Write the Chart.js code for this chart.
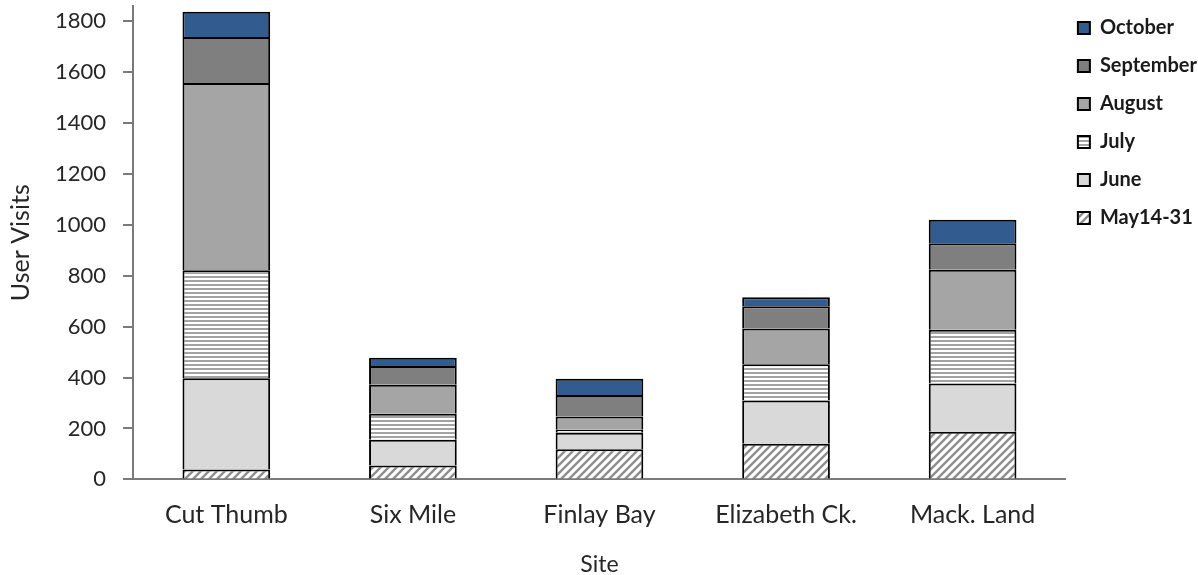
<!DOCTYPE html>
<html>
<head>
<meta charset="utf-8">
<script src="https://cdn.jsdelivr.net/npm/chart.js@4.4.1/dist/chart.umd.min.js"></script>
<style>
  html, body { margin: 0; padding: 0; background: #ffffff; }
  #wrap { width: 1198px; height: 575px; }
</style>
</head>
<body>
<div id="wrap"><canvas id="chart" width="1198" height="575"></canvas></div>
<script>
// Sites along the category axis
const sites = ['Cut Thumb', 'Six Mile', 'Finlay Bay', 'Elizabeth Ck.', 'Mack. Land'];

// Monthly user visits per site (stacked bottom to top)
const may14to31 = [39, 55, 118, 140, 187];
const june      = [358, 101, 65, 170, 190];
const july      = [425, 102, 12, 142, 211];
const august    = [735, 114, 52, 141, 236];
const september = [181, 74, 85, 87, 104];
const october   = [99, 32, 63, 36, 92];

// Y axis tick values
const yTicks = [0, 200, 400, 600, 800, 1000, 1200, 1400, 1600, 1800];

const FONT = 'Lato, "Liberation Sans", sans-serif';

// Fill patterns for the hatched and striped months
function diagonalHatch() {
  const c = document.createElement('canvas');
  c.width = 8; c.height = 8;
  const g = c.getContext('2d');
  g.fillStyle = '#ffffff';
  g.fillRect(0, 0, 8, 8);
  g.strokeStyle = '#8f8f8f';
  g.lineWidth = 2.4;
  g.beginPath();
  g.moveTo(-2, 10); g.lineTo(10, -2);
  g.moveTo(-6, 6); g.lineTo(6, -6);
  g.moveTo(2, 14); g.lineTo(14, 2);
  g.stroke();
  return g.createPattern(c, 'repeat');
}
function horizontalStripes() {
  const c = document.createElement('canvas');
  c.width = 4; c.height = 4;
  const g = c.getContext('2d');
  g.fillStyle = '#ffffff';
  g.fillRect(0, 0, 4, 4);
  g.fillStyle = '#a3a3a3';
  g.fillRect(0, 0, 4, 2);
  return g.createPattern(c, 'repeat');
}

const series = [
  { label: 'May14-31',  data: may14to31, fill: diagonalHatch() },
  { label: 'June',      data: june,      fill: '#d9d9d9' },
  { label: 'July',      data: july,      fill: horizontalStripes() },
  { label: 'August',    data: august,    fill: '#a5a5a5' },
  { label: 'September', data: september, fill: '#7f7f7f' },
  { label: 'October',   data: october,   fill: '#325c8f' }
];

const datasets = series.map(s => ({
  label: s.label,
  data: s.data,
  backgroundColor: s.fill,
  borderColor: '#000000',
  borderWidth: 2,
  borderSkipped: 'start',
  categoryPercentage: 1.0,
  barPercentage: 0.47
}));

// Legend entries as one-line arrays so the row pitch follows the font line height
const legendLabels = (chart) =>
  Chart.defaults.plugins.legend.labels.generateLabels(chart).map(item => ({ ...item, text: [item.text] }));

new Chart(document.getElementById('chart'), {
  type: 'bar',
  data: { labels: sites, datasets: datasets },
  options: {
    responsive: false,
    animation: false,
    layout: { padding: { left: 6, right: -9, top: 6, bottom: -3 } },
    plugins: {
      tooltip: { enabled: false },
      legend: {
        position: 'right',
        align: 'start',
        reverse: true,
        labels: {
          generateLabels: legendLabels,
          boxWidth: 12,
          boxHeight: 12,
          padding: 12,
          color: '#1a1a1a',
          font: { family: FONT, size: 20, weight: 'bold', lineHeight: 1.3 }
        }
      }
    },
    scales: {
      x: {
        stacked: true,
        grid: { display: false, drawTicks: false },
        border: { display: true, color: '#7a7a7a', width: 2 },
        ticks: {
          padding: 21,
          color: '#262626',
          font: { family: FONT, size: 25 }
        },
        title: {
          display: true,
          text: 'Site',
          color: '#262626',
          font: { family: FONT, size: 23 },
          padding: { top: -1, bottom: 0 }
        }
      },
      y: {
        stacked: true,
        min: 0,
        max: 1860,
        afterBuildTicks: (axis) => { axis.ticks = yTicks.map(v => ({ value: v })); },
        afterFit: (axis) => { axis.paddingTop = 5; },
        grid: {
          drawOnChartArea: false,
          drawTicks: true,
          tickLength: 10,
          color: '#7a7a7a',
          lineWidth: 2
        },
        border: { display: true, color: '#7a7a7a', width: 2 },
        ticks: {
          padding: 17,
          color: '#262626',
          font: { family: FONT, size: 22 },
          callback: (v) => String(v)
        },
        title: {
          display: true,
          text: 'User Visits',
          color: '#262626',
          font: { family: FONT, size: 25 },
          padding: { top: 0, bottom: 2 }
        }
      }
    }
  }
});
</script>
</body>
</html>
